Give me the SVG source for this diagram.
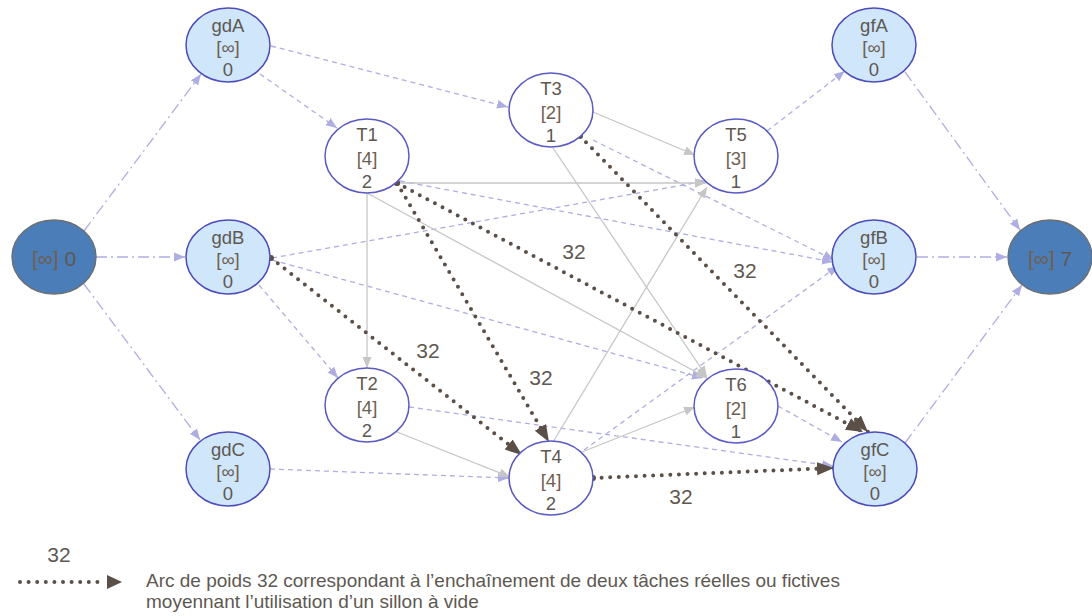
<svg xmlns="http://www.w3.org/2000/svg" width="1092" height="616" viewBox="0 0 1092 616">
<style>
.t{font-family:"Liberation Sans",Arial,sans-serif;fill:#5e5852;text-anchor:middle}
.n{font-size:18.5px}
.b{fill:#6e6050}
.w{font-size:21px}
.lav{fill:none;stroke:#aeaee2;stroke-width:1.3}
.dd{stroke-dasharray:5 4}
.dc{stroke-dasharray:11 4 2 4}
.gr{fill:none;stroke:#c6c6c6;stroke-width:1.3}
.dot{fill:none;stroke:#5b5048;stroke-width:4;stroke-linecap:round;stroke-dasharray:0 8.6}
.lb{fill:#cfe6fb;stroke:#4c4cba;stroke-width:1.5}
.wh{fill:#fff;stroke:#5a5ac2;stroke-width:1.5}
.dk{fill:#4b7db8;stroke:#6d6d6d;stroke-width:1.3}
.lg{font-family:"Liberation Sans",Arial,sans-serif;font-size:19px;fill:#5e5852}
</style>
<defs>
<marker id="aL" markerUnits="userSpaceOnUse" markerWidth="12" markerHeight="12" viewBox="0 0 12 12" refX="11" refY="6" orient="auto"><path d="M0,1.5 L11,6 L0,10.5 Z" fill="#aeaee2"/></marker>
<marker id="aG" markerUnits="userSpaceOnUse" markerWidth="12" markerHeight="12" viewBox="0 0 12 12" refX="11" refY="6" orient="auto"><path d="M0,1.5 L11,6 L0,10.5 Z" fill="#c6c6c6"/></marker>
<marker id="aD" markerUnits="userSpaceOnUse" markerWidth="18" markerHeight="16" viewBox="0 0 18 16" refX="17" refY="8" orient="auto"><path d="M0,1.5 L17,8 L0,14.5 Z" fill="#5b5048"/></marker>
<marker id="sD" markerUnits="userSpaceOnUse" markerWidth="8" markerHeight="8" viewBox="0 0 8 8" refX="4" refY="4"><circle cx="4" cy="4" r="3" fill="#5b5048"/></marker>
</defs>
<rect width="1092" height="616" fill="#fff"/>
<g id="connectors">
<g class="lav dc" marker-end="url(#aL)">
<path d="M84,231 L201,74"/>
<path d="M96,257 L185,257"/>
<path d="M84,284 L200,440"/>
<path d="M905,72 L1020,230"/>
<path d="M917,257 L1007,257"/>
<path d="M905,443 L1022,285"/>
</g>
<g class="lav dd" marker-end="url(#aL)">
<path d="M271,46 L508,107"/>
<path d="M260,74 L337,128"/>
<path d="M272,258 L706,181"/>
<path d="M272,260 L703,378"/>
<path d="M259,285 L338,378"/>
<path d="M270,469 L509,478"/>
<path d="M400,181 L833,262"/>
<path d="M593,140 L834,260"/>
<path d="M584,450 L838,266"/>
<path d="M767,131 L845,71"/>
<path d="M409,407 L833,466"/>
<path d="M778,406 L842,442"/>
</g>
<g class="gr" marker-end="url(#aG)">
<path d="M593,112 L695,155"/>
<path d="M398,183 L706,183"/>
<path d="M367,193 L367,368"/>
<path d="M367,193 L707,378"/>
<path d="M553,148 L707,377"/>
<path d="M397,432 L510,477"/>
<path d="M553,442 L707,187"/>
<path d="M582,452 L695,407"/>
</g>
<g class="dot" marker-start="url(#sD)" marker-end="url(#aD)">
<path d="M271,258 L522,455"/>
<path d="M397,183 L549,442"/>
<path d="M397,183 L863,432"/>
<path d="M580,136 L868,432"/>
<path d="M593,478 L834,468"/>
</g>
<g class="t w">
<text x="428" y="358">32</text>
<text x="541" y="385">32</text>
<text x="574" y="259">32</text>
<text x="745" y="278">32</text>
<text x="681" y="504">32</text>
</g>
</g>
<g id="S"><ellipse class="dk" cx="54" cy="257" rx="42" ry="37"/><text class="t w" x="54" y="266"><tspan class="b">[∞]</tspan> 0</text></g>
<g id="K"><ellipse class="dk" cx="1050" cy="257" rx="42" ry="37"/><text class="t w" x="1050" y="266"><tspan class="b">[∞]</tspan> 7</text></g>
<g id="gdA"><ellipse class="lb" cx="228" cy="45" rx="42" ry="37"/><text class="t n" x="228" y="32">gdA</text><text class="t n b" x="228" y="54">[∞]</text><text class="t n" x="228" y="76">0</text></g>
<g id="gdB"><ellipse class="lb" cx="228" cy="257" rx="42" ry="37"/><text class="t n" x="228" y="244">gdB</text><text class="t n b" x="228" y="266">[∞]</text><text class="t n" x="228" y="288">0</text></g>
<g id="gdC"><ellipse class="lb" cx="228" cy="469" rx="42" ry="37"/><text class="t n" x="228" y="456">gdC</text><text class="t n b" x="228" y="478">[∞]</text><text class="t n" x="228" y="500">0</text></g>
<g id="gfA"><ellipse class="lb" cx="874" cy="45" rx="42" ry="37"/><text class="t n" x="874" y="32">gfA</text><text class="t n b" x="874" y="54">[∞]</text><text class="t n" x="874" y="76">0</text></g>
<g id="gfB"><ellipse class="lb" cx="874" cy="257" rx="42" ry="37"/><text class="t n" x="874" y="244">gfB</text><text class="t n b" x="874" y="266">[∞]</text><text class="t n" x="874" y="288">0</text></g>
<g id="gfC"><ellipse class="lb" cx="875" cy="469" rx="42" ry="37"/><text class="t n" x="875" y="456">gfC</text><text class="t n b" x="875" y="478">[∞]</text><text class="t n" x="875" y="500">0</text></g>
<g id="T1"><ellipse class="wh" cx="367" cy="156" rx="42" ry="37"/><text class="t n" x="367" y="141">T1</text><text class="t n b" x="367" y="165">[4]</text><text class="t n" x="367" y="188">2</text></g>
<g id="T2"><ellipse class="wh" cx="367" cy="405" rx="42" ry="37"/><text class="t n" x="367" y="390">T2</text><text class="t n b" x="367" y="414">[4]</text><text class="t n" x="367" y="437">2</text></g>
<g id="T3"><ellipse class="wh" cx="551" cy="110" rx="42" ry="37"/><text class="t n" x="551" y="95">T3</text><text class="t n b" x="551" y="119">[2]</text><text class="t n" x="551" y="142">1</text></g>
<g id="T4"><ellipse class="wh" cx="551" cy="478" rx="42" ry="37"/><text class="t n" x="551" y="463">T4</text><text class="t n b" x="551" y="487">[4]</text><text class="t n" x="551" y="510">2</text></g>
<g id="T5"><ellipse class="wh" cx="736" cy="156" rx="42" ry="37"/><text class="t n" x="736" y="141">T5</text><text class="t n b" x="736" y="165">[3]</text><text class="t n" x="736" y="188">1</text></g>
<g id="T6"><ellipse class="wh" cx="736" cy="406" rx="42" ry="37"/><text class="t n" x="736" y="391">T6</text><text class="t n b" x="736" y="415">[2]</text><text class="t n" x="736" y="438">1</text></g>
<g id="legend">
<text class="t w" x="59" y="562">32</text>
<path class="dot" d="M20,582 L104,582"/>
<path d="M107,575 L122,582 L107,589 Z" fill="#5b5048"/>
<text class="lg" x="146" y="587">Arc de poids 32 correspondant à l’enchaînement de deux tâches réelles ou fictives</text>
<text class="lg" x="146" y="608">moyennant l’utilisation d’un sillon à vide</text>
</g>
</svg>
